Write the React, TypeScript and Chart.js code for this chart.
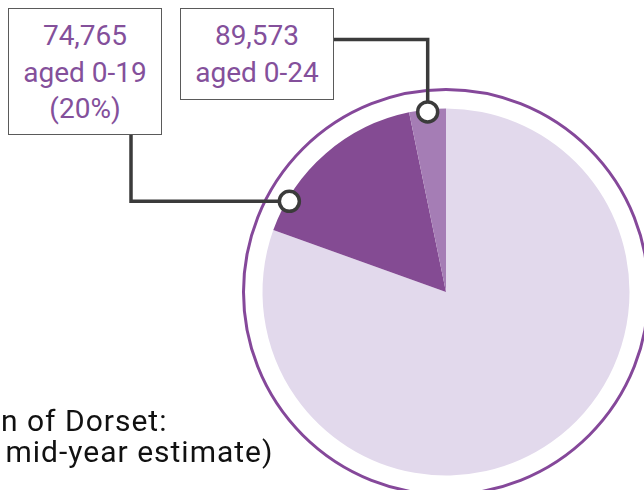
import React, { useEffect, useRef } from "react";
import { Chart, registerables } from "chart.js";

Chart.register(...registerables);

const categories = ["Aged 25 and over", "Aged 0-19", "Aged 20-24"];
const populationValues = [369400, 74765, 14808];
const sliceColors = ["#e2d9ec", "#844b93", "#a57db5"];

const calloutNumbers = ["74,765", "89,573"];
const calloutLabels = ["aged 0-19", "aged 0-24"];
const calloutShare = ["(20%)"];

const footerLines = ["n of Dorset:", "mid-year estimate)"];

const PURPLE_TEXT = "#84509b";
const RING = "#85489a";
const LINE = "#3b3b3b";

const W = 892;
const H = 584;

const calloutPlugin = {
  id: "callouts",
  beforeDatasetsDraw(chart: any) {
    const meta = chart.getDatasetMeta(0);
    const arc: any = meta.data[0];
    if (!arc) return;
    const ctx = chart.ctx;
    ctx.save();
    ctx.beginPath();
    ctx.arc(arc.x, arc.y, arc.outerRadius + 19, 0, Math.PI * 2);
    ctx.strokeStyle = RING;
    ctx.lineWidth = 3;
    ctx.stroke();
    ctx.restore();
  },
  afterDatasetsDraw(chart: any) {
    const meta = chart.getDatasetMeta(0);
    const dark: any = meta.data[1];
    const mid: any = meta.data[2];
    if (!dark || !mid) return;
    const ctx = chart.ctx;
    const r = dark.outerRadius - 2.5;
    const a1 = dark.startAngle + 0.176 * (dark.endAngle - dark.startAngle);
    const p1 = { x: dark.x + r * Math.cos(a1), y: dark.y + r * Math.sin(a1) };
    const a2 = (mid.startAngle + mid.endAngle) / 2;
    const p2 = { x: mid.x + r * Math.cos(a2), y: mid.y + r * Math.sin(a2) };
    ctx.save();
    ctx.strokeStyle = LINE;
    ctx.lineWidth = 3.5;
    ctx.lineJoin = "miter";
    ctx.beginPath();
    ctx.moveTo(p1.x, p1.y);
    ctx.lineTo(131, p1.y);
    ctx.lineTo(131, 135);
    ctx.stroke();
    ctx.beginPath();
    ctx.moveTo(p2.x, p2.y);
    ctx.lineTo(p2.x, 39.5);
    ctx.lineTo(334, 39.5);
    ctx.stroke();
    for (const p of [p1, p2]) {
      ctx.beginPath();
      ctx.arc(p.x, p.y, 10, 0, Math.PI * 2);
      ctx.fillStyle = "#ffffff";
      ctx.fill();
      ctx.lineWidth = 3.5;
      ctx.strokeStyle = LINE;
      ctx.stroke();
    }
    ctx.restore();
  },
};

const boxStyle: React.CSSProperties = {
  position: "absolute",
  top: 8,
  boxSizing: "border-box",
  border: "1px solid #5a5a5a",
  background: "#ffffff",
  color: PURPLE_TEXT,
  fontFamily: "Roboto, sans-serif",
  fontSize: 28,
  lineHeight: "36.5px",
  textAlign: "center",
  paddingTop: 9,
  whiteSpace: "nowrap",
};

const footerStyle: React.CSSProperties = {
  position: "absolute",
  fontFamily: "Roboto, sans-serif",
  fontSize: 30,
  lineHeight: "31px",
  letterSpacing: "1px",
  color: "#111111",
  whiteSpace: "nowrap",
};

export default function App() {
  const canvasRef = useRef<HTMLCanvasElement | null>(null);

  useEffect(() => {
    if (!canvasRef.current) return;
    const chart = new Chart(canvasRef.current, {
      type: "pie",
      data: {
        labels: categories,
        datasets: [
          {
            data: populationValues,
            backgroundColor: sliceColors,
            borderWidth: 0,
          },
        ],
      },
      options: {
        responsive: false,
        animation: false,
        radius: 183.5,
        layout: { padding: 0 },
        plugins: {
          legend: { display: false },
          tooltip: { enabled: false },
        },
      } as any,
      plugins: [calloutPlugin],
    });
    return () => chart.destroy();
  }, []);

  return (
    <div
      style={{
        position: "fixed",
        left: 0,
        top: 0,
        width: 644,
        height: 490,
        overflow: "hidden",
        background: "#ffffff",
      }}
    >
      <canvas
        ref={canvasRef}
        width={W}
        height={H}
        style={{ position: "absolute", left: 0, top: 0, width: W, height: H }}
      />
      <div style={{ ...boxStyle, left: 8, width: 154, height: 127 }}>
        <div>{calloutNumbers[0]}</div>
        <div>{calloutLabels[0]}</div>
        <div>{calloutShare[0]}</div>
      </div>
      <div style={{ ...boxStyle, left: 180, width: 154, height: 92 }}>
        <div>{calloutNumbers[1]}</div>
        <div>{calloutLabels[1]}</div>
      </div>
      <div style={{ ...footerStyle, left: 1, top: 405 }}>{footerLines[0]}</div>
      <div style={{ ...footerStyle, left: 5.5, top: 436 }}>{footerLines[1]}</div>
    </div>
  );
}
